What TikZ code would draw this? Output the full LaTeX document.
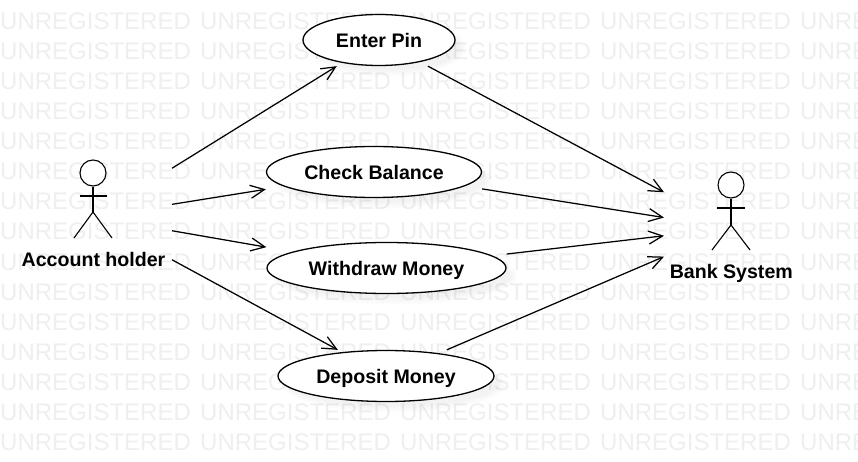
\documentclass[tikz,border=0pt]{standalone}
\usepackage{fontspec}
\setmainfont{Liberation Sans}
\usetikzlibrary{arrows.meta,fit,shapes.geometric}
\definecolor{wmgray}{HTML}{EFEFEF}
\tikzset{
  wm/.style={anchor=base west,inner sep=0pt,text=wmgray,font=\fontsize{24}{24}\selectfont},
  useell/.style={ellipse,draw=black,line width=1.3pt,fill=white,inner sep=0pt,text height=15pt,text depth=0pt,font=\fontsize{19.6}{22}\selectfont\bfseries},
  shadowell/.style={ellipse,fill=black,fill opacity=0.013,inner sep=0pt},
  hull/.style={rectangle,inner sep=0pt,outer sep=0pt},
  actorhull/.style={rectangle,inner sep=0pt,outer sep=0pt,minimum height=110pt},
  actorline/.style={line width=1.1pt,draw=black},
  actorhead/.style={circle,draw=black,line width=1.1pt,fill=white,minimum size=26pt,inner sep=0pt},
  actorlabel/.style={inner sep=0pt,text height=13pt,text depth=0pt,font=\fontsize{19.6}{22}\selectfont\bfseries},
  assoc/.style={line width=1.25pt,draw=black,-{Straight Barb[length=14pt,width=13pt,line width=1.25pt]}},
}
\begin{document}
\begin{tikzpicture}[x=1pt,y=-1pt]
\useasboundingbox (0,0) rectangle (858,462);
\fill[white] (0,0) rectangle (858,462);
\begin{scope}
\clip (0,0) rectangle (858,462);
\foreach \r in {0,...,14}{
  \foreach \c in {0,...,4}{
    \node[wm] (wm\r c\c) at ({\c*200},{30+\r*30}) {UNREGISTERED};
  }
}
\end{scope}
% soft shadows: stacked translucent ellipses
\foreach \d [count=\k] in {-6,-2,2,6}{
  \node[shadowell,minimum width={152+\d*1pt},minimum height={51+\d*1pt}] (pinS\k) at (387,48) {};
  \node[shadowell,minimum width={215+\d*1pt},minimum height={51+\d*1pt}] (balS\k) at (382,180) {};
  \node[shadowell,minimum width={239+\d*1pt},minimum height={51+\d*1pt}] (witS\k) at (394.5,276) {};
  \node[shadowell,minimum width={216+\d*1pt},minimum height={51+\d*1pt}] (depS\k) at (394,384) {};
}
% use cases
\node[useell,minimum width=152pt,minimum height=51pt] (pinE) at (379,40) {Enter Pin};
\node[useell,minimum width=215pt,minimum height=51pt] (balE) at (374,172) {Check Balance};
\node[useell,minimum width=239pt,minimum height=51pt] (witE) at (386.5,268) {Withdraw Money};
\node[useell,minimum width=216pt,minimum height=51pt] (depE) at (386,376) {Deposit Money};
\node[hull,fit=(pinE)] (pin) {};
\node[hull,fit=(balE)] (bal) {};
\node[hull,fit=(witE)] (wit) {};
\node[hull,fit=(depE)] (dep) {};
% account holder
\node[actorhull,minimum width=158pt] (holder) at (93,217) {};
\node[actorlabel] (holderL) at (93.5,260) {Account holder};
\node[actorhead] (holderH) at (93,173) {};
\coordinate (holderHip) at (93,212);
\draw[actorline] (holderH) -- (holderHip);
\draw[actorline] (79.5,196) -- (107,196);
\draw[actorline] (74,238) -- (holderHip) -- (112,238);
% bank system
\node[actorhull,minimum width=134pt] (bank) at (731,228) {};
\node[actorlabel] (bankL) at (731.3,271.6) {Bank System};
\node[actorhead] (bankH) at (731,185) {};
\coordinate (bankHip) at (731,225);
\draw[actorline] (bankH) -- (bankHip);
\draw[actorline] (717,208) -- (745,208);
\draw[actorline] (712,250) -- (bankHip) -- (750,250);
% connectors
\draw[assoc] (holder) -- (pin);
\draw[assoc] (holder) -- (bal);
\draw[assoc] (holder) -- (wit);
\draw[assoc] (holder) -- (dep);
\draw[assoc] (pin) -- (bank);
\draw[assoc] (bal) -- (bank);
\draw[assoc] (wit) -- (bank);
\draw[assoc] (dep) -- (bank);
\end{tikzpicture}
\end{document}
